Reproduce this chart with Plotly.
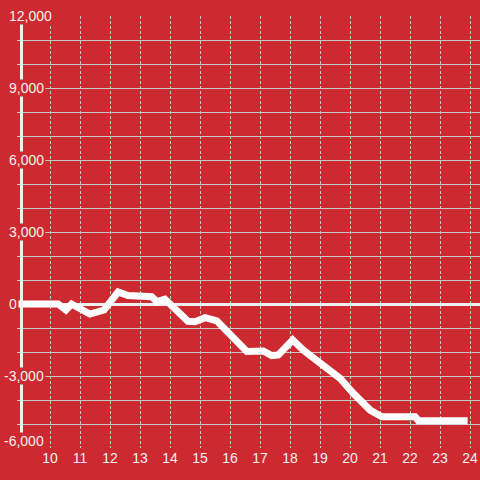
import plotly.graph_objects as go

# ---- data ----
hours = [8.9, 10.27, 10.53, 10.72, 11.33, 11.8, 12.27, 12.6, 13.39, 13.56, 13.83,
         14.6, 14.83, 15.17, 15.56, 16.56, 17.11, 17.39, 17.61, 18.09, 18.44,
         18.78, 19.33, 19.67, 20.11, 20.67, 21.06, 22.17, 22.28, 23.92]
values = [0, 0, -250, 0, -420, -250, 500, 350, 300, 100, 200,
          -720, -740, -570, -700, -1980, -1960, -2150, -2125, -1500, -1920,
          -2260, -2820, -3100, -3720, -4420, -4700, -4700, -4860, -4860]
x_ticks = list(range(10, 25))
x_tick_labels = [str(v) for v in x_ticks]
y_ticks = [12000, 9000, 6000, 3000, 0, -3000, -6000]
y_tick_labels = ["12,000", "9,000", "6,000", "3,000", "0", "-3,000", "-6,000"]

# ---- style ----
BG = "#cc2a30"
FG = "#f0f0f0"
GRID = "#c8c8c8"
FONT = "Liberation Sans, Arial, sans-serif"
W, H = 480, 480
ML, MR, MT, MB = 17, 0, 16, 32
PW = W - ML - MR

fig = go.Figure()
fig.add_trace(go.Scatter(
    x=hours, y=values, mode="lines",
    line=dict(color="#ffffff", width=7),
    hoverinfo="skip", showlegend=False,
))

def px_to_paper(px):
    return (px - ML) / PW

y_min = min(y_ticks)
annotations = []
for v, t in zip(y_ticks, y_tick_labels):
    left_px = 2 if v < 0 else 7
    annotations.append(dict(
        x=px_to_paper(left_px), xref="paper", xanchor="left",
        y=v, yref="y", yanchor="middle",
        yshift=7 if v == y_min else 0,
        text=t, showarrow=False,
        font=dict(family=FONT, size=14, color=FG),
        bgcolor=BG, borderpad=1, height=14,
    ))

fig.update_layout(
    width=W, height=H,
    margin=dict(l=ML, r=MR, t=MT, b=MB),
    paper_bgcolor=BG, plot_bgcolor=BG,
    showlegend=False,
    annotations=annotations,
    xaxis=dict(
        range=[8.9, 24 + 1 / 3],
        tickvals=x_ticks, ticktext=x_tick_labels,
        tickfont=dict(family=FONT, size=14, color=FG),
        showgrid=True, gridcolor=GRID, gridwidth=1, griddash="3px,2px",
        zeroline=False, showline=False, ticks="",
        fixedrange=True,
    ),
    yaxis=dict(
        range=[-6000, 12000],
        tickmode="linear", tick0=0, dtick=1000,
        showticklabels=False,
        showgrid=True, gridcolor=GRID, gridwidth=1,
        zeroline=True, zerolinecolor=FG, zerolinewidth=3,
        showline=True, linecolor="#eeeeee", linewidth=3,
        anchor="free", position=px_to_paper(20.5),
        ticks="",
        fixedrange=True,
    ),
)

fig.write_html(
    "out.html",
    config={"displayModeBar": False},
    post_script="document.body.style.margin='0';document.body.style.overflow='hidden';",
)
